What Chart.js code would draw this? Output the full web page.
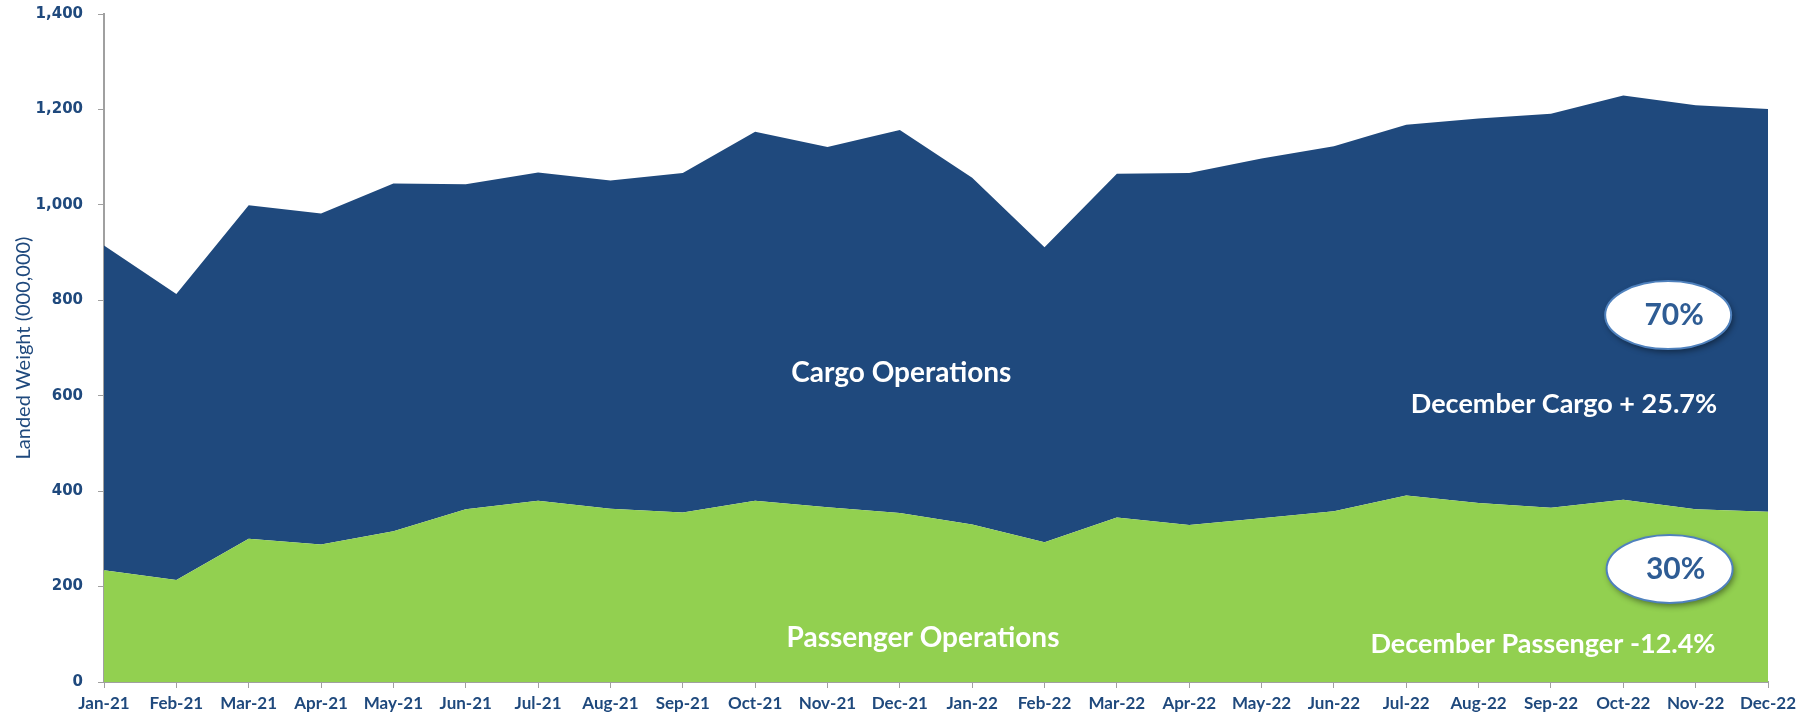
<!DOCTYPE html>
<html>
<head>
<meta charset="utf-8">
<script src="https://cdn.jsdelivr.net/npm/chart.js@4/dist/chart.umd.min.js"></script>
<style>
    html, body { margin: 0; padding: 0; background: #fff; }
    #wrap { width: 1812px; height: 715px; position: relative; }
</style>
</head>
<body>
<div id="wrap"><canvas id="landedWeight"></canvas></div>
<script>
const months = ["Jan-21", "Feb-21", "Mar-21", "Apr-21", "May-21", "Jun-21", "Jul-21", "Aug-21",
    "Sep-21", "Oct-21", "Nov-21", "Dec-21", "Jan-22", "Feb-22", "Mar-22", "Apr-22",
    "May-22", "Jun-22", "Jul-22", "Aug-22", "Sep-22", "Oct-22", "Nov-22", "Dec-22"];
const passenger = [234, 214, 300, 288, 316, 362, 380, 363, 355, 380, 366, 354,
    330, 293, 345, 329, 343, 358, 391, 375, 365, 382, 362, 357];
const cargo = [681, 599, 699, 694, 729, 681, 688, 688, 712, 773, 755, 803,
    727, 618, 720, 738, 754, 765, 777, 806, 826, 847, 847, 844];
const yTicks = [0, 200, 400, 600, 800, 1000, 1200, 1400];

const navy = "#1F497D";
const green = "#92D050";

// text labels and ovals placed in data space (x = month index, y = value)
const notes = [
    { text: "Cargo Operations", x: 11.02, y: 648, size: 28 },
    { text: "Passenger Operations", x: 11.32, y: 92, size: 28 },
    { text: "December Cargo + 25.7%", x: 20.18, y: 583, size: 27 },
    { text: "December Passenger -12.4%", x: 19.89, y: 78, size: 27 }
];
const ovals = [
    { text: "70%", x: 21.62, y: 769 },
    { text: "30%", x: 21.64, y: 237 }
];

const notesPlugin = {
    id: "notes",
    afterDatasetsDraw(chart) {
        const ctx = chart.ctx;
        const xs = chart.scales.x;
        const ys = chart.scales.y;
        ctx.save();
        ctx.textAlign = "center";
        ctx.textBaseline = "middle";
        notes.forEach(n => {
            ctx.font = "bold " + n.size + "px Lato";
            ctx.fillStyle = "#ffffff";
            ctx.fillText(n.text, xs.getPixelForValue(n.x), ys.getPixelForValue(n.y));
        });
        ovals.forEach(o => {
            const cx = xs.getPixelForValue(o.x);
            const cy = ys.getPixelForValue(o.y);
            ctx.save();
            ctx.shadowColor = "rgba(0,0,0,0.45)";
            ctx.shadowBlur = 6;
            ctx.shadowOffsetX = 2;
            ctx.shadowOffsetY = 3;
            ctx.beginPath();
            ctx.ellipse(cx, cy, 63, 34, 0, 0, Math.PI * 2);
            ctx.fillStyle = "#ffffff";
            ctx.fill();
            ctx.restore();
            ctx.beginPath();
            ctx.ellipse(cx, cy, 63, 34, 0, 0, Math.PI * 2);
            ctx.lineWidth = 2;
            ctx.strokeStyle = "#4F81BD";
            ctx.stroke();
            ctx.font = "bold 30px Lato";
            ctx.fillStyle = "#2E5C94";
            ctx.fillText(o.text, cx + 6, cy);
        });
        ctx.restore();
    }
};

const canvas = document.getElementById("landedWeight");
const chart = new Chart(canvas, {
    type: "line",
    data: {
        labels: months,
        datasets: [{
            label: "Passenger Operations",
            data: passenger,
            fill: "origin",
            backgroundColor: green,
            borderWidth: 0,
            pointRadius: 0,
            tension: 0
        }, {
            label: "Cargo Operations",
            data: cargo,
            fill: "-1",
            backgroundColor: navy,
            borderWidth: 0,
            pointRadius: 0,
            tension: 0
        }]
    },
    options: {
        responsive: true,
        maintainAspectRatio: false,
        animation: false,
        layout: {
            padding: { top: 14, right: 44, left: 0, bottom: 0 }
        },
        plugins: {
            legend: { display: false },
            tooltip: { enabled: false }
        },
        scales: {
            x: {
                offset: false,
                grid: {
                    display: true,
                    drawOnChartArea: false,
                    drawTicks: true,
                    tickLength: 6,
                    color: "#A0A0A0"
                },
                border: { color: "#A0A0A0", width: 2 },
                ticks: {
                    color: navy,
                    font: { family: "Lato", weight: "bold", size: 17 },
                    maxRotation: 0,
                    autoSkip: false,
                    padding: 5
                },
                afterFit(scale) { scale.height = 33; }
            },
            y: {
                stacked: true,
                min: 0,
                max: 1400,
                afterBuildTicks(scale) {
                    scale.ticks = yTicks.map(v => ({ value: v }));
                },
                grid: {
                    display: true,
                    drawOnChartArea: false,
                    drawTicks: true,
                    tickLength: 6,
                    color: "#A0A0A0"
                },
                border: { color: "#A0A0A0", width: 2 },
                ticks: {
                    color: navy,
                    font: { family: "DejaVu Sans", weight: "bold", size: 15 },
                    padding: 15,
                    callback: v => v.toLocaleString("en-US")
                },
                title: {
                    display: true,
                    text: "Landed Weight (000,000)",
                    color: navy,
                    font: { family: "Lato", size: 20 },
                    padding: { top: 12, bottom: 0 }
                },
                afterFit(scale) {
                    scale.width = 104;
                    // label padding would otherwise push the plot top down
                    scale.paddingTop = 0;
                    scale.paddingBottom = 0;
                }
            }
        }
    },
    plugins: [notesPlugin]
});
</script>
</body>
</html>
